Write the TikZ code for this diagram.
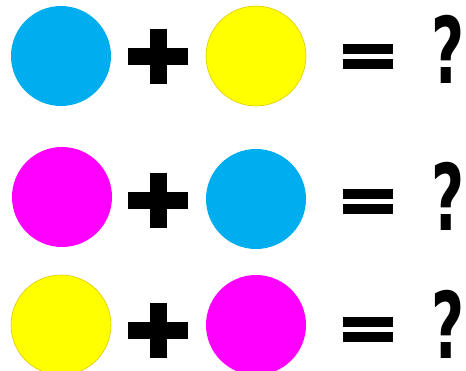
\documentclass[tikz,border=0pt]{standalone}
\usepackage{fontspec}
\setmainfont{DejaVu Sans}
\definecolor{pcyan}{RGB}{0,174,239}
\definecolor{pyellow}{RGB}{255,255,0}
\definecolor{pyedge}{RGB}{225,200,0}
\definecolor{pmagenta}{RGB}{255,0,255}
\tikzset{
  dot/.style={circle, minimum size=100pt, inner sep=0pt},
  cy/.style={dot, fill=pcyan},
  ye/.style={dot, fill=pyellow, draw=pyedge, line width=0.6pt},
  ma/.style={dot, fill=pmagenta},
  qmark/.style={anchor=base west, inner sep=0pt, xscale=0.62,
    font=\fontsize{92pt}{92pt}\selectfont\bfseries},
}
\newcommand{\plussign}[2]{%
  \fill[black] (#1-30,#2-8.5) rectangle (#1+30,#2+8.5);
  \fill[black] (#1-8.5,#2-27.5) rectangle (#1+8.5,#2+27.5);}
\newcommand{\eqsign}[2]{%
  \fill[black] (#1-25,#2+2.5) rectangle (#1+25,#2+12.5);
  \fill[black] (#1-25,#2-2.5) rectangle (#1+25,#2-12.5);}
\begin{document}
\begin{tikzpicture}[x=1pt,y=1pt]
\useasboundingbox (0,0) rectangle (466,-370);
\clip (0,0) rectangle (466,-370);
% row 1
\node[cy] (a1) at (61,-56) {};
\node[ye] (b1) at (256,-56) {};
\plussign{158}{-56}
\eqsign{368}{-56}
\node[qmark] (q1) at (431,-83) {?};
% row 2
\node[ma] (a2) at (62,-197) {};
\node[cy] (b2) at (256,-199) {};
\plussign{158}{-200}
\eqsign{368}{-201.5}
\node[qmark] (q2) at (431,-230) {?};
% row 3
\node[ye] (a3) at (61,-325) {};
\node[ma] (b3) at (256,-325) {};
\plussign{158}{-330}
\eqsign{368}{-329.5}
\node[qmark] (q3) at (431,-358) {?};
\end{tikzpicture}
\end{document}
